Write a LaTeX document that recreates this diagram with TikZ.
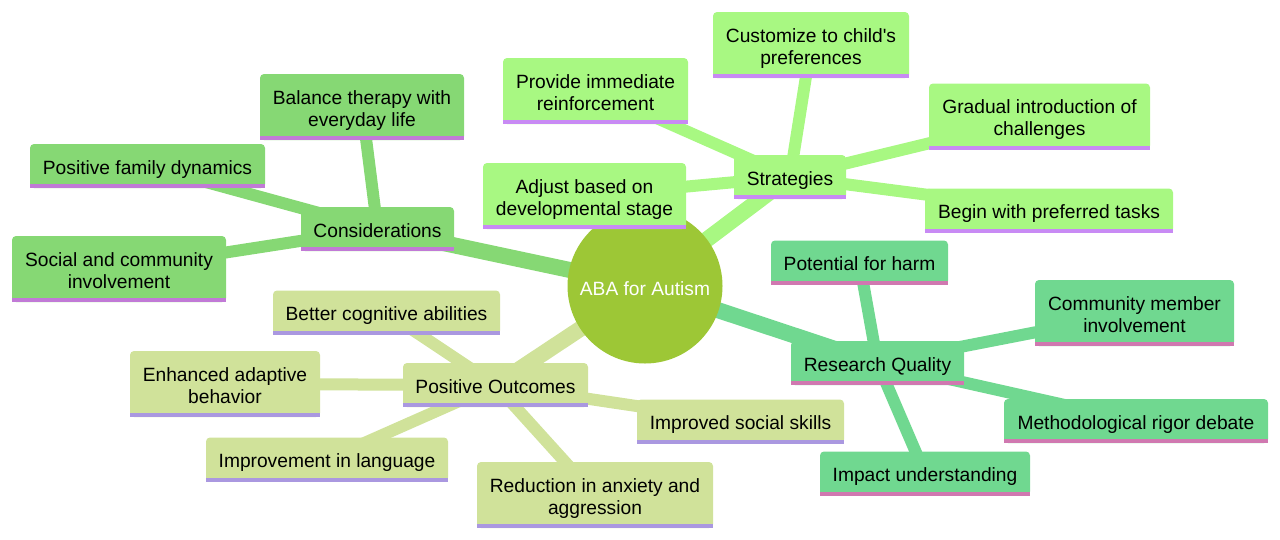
\documentclass[tikz,border=0pt]{standalone}
\usepackage{fontspec}
\setmainfont{Liberation Sans}
\usetikzlibrary{backgrounds}

\definecolor{rootC}{RGB}{157,199,54}
\definecolor{consC}{RGB}{134,216,116}
\definecolor{consL}{RGB}{193,122,214}
\definecolor{stratC}{RGB}{168,248,130}
\definecolor{stratL}{RGB}{200,138,244}
\definecolor{resC}{RGB}{112,216,144}
\definecolor{resL}{RGB}{208,120,176}
\definecolor{outC}{RGB}{208,226,154}
\definecolor{outL}{RGB}{170,152,224}

\newcommand{\mmfont}{\fontsize{19.2}{22}\selectfont}

\tikzset{
  mmbox/.style={fill=#1, rounded corners=4pt, align=center, font=\mmfont,
    text=black, inner sep=0pt, minimum height=44pt, text height=20pt, text depth=4pt},
  twoline/.style={minimum height=66pt, text height=42pt, text depth=4pt},
  mmedge/.style={draw=#1, line width=12pt},
  mainedge/.style={draw=#1, line width=16pt}
}

\begin{document}
\begin{tikzpicture}[x=1pt,y=-1pt]
    \useasboundingbox (0,0) rectangle (1280,539);

    % Mittelpunkt
    \node[circle, fill=rootC, minimum size=155pt, inner sep=0pt, font=\mmfont, text=white,
          text height=18pt, text depth=0pt] (root) at (645,286) {ABA for Autism};

    % Zweig: Considerations
    \node[mmbox=consC, minimum width=153pt] (cons) at (377.5,229) {Considerations};
    \node[mmbox=consC, twoline, minimum width=204pt] (bal) at (362,107) {Balance therapy with\\everyday life};
    \node[mmbox=consC, minimum width=235pt] (fam) at (147.5,166) {Positive family dynamics};
    \node[mmbox=consC, twoline, minimum width=214pt] (soc) at (119,269) {Social and community\\involvement};

    % Zweig: Strategies
    \node[mmbox=stratC, minimum width=112pt] (strat) at (790,177) {Strategies};
    \node[mmbox=stratC, twoline, minimum width=196pt] (cust) at (811,45) {Customize to child\textquotesingle s\\preferences};
    \node[mmbox=stratC, twoline, minimum width=185pt] (prov) at (595.5,91) {Provide immediate\\reinforcement};
    \node[mmbox=stratC, twoline, minimum width=203pt] (adj) at (584.5,196) {Adjust based on\\developmental stage};
    \node[mmbox=stratC, twoline, minimum width=221pt] (grad) at (1039.5,116.5) {Gradual introduction of\\challenges};
    \node[mmbox=stratC, minimum width=248pt] (begin) at (1049,210.5) {Begin with preferred tasks};

    % Zweig: Research Quality
    \node[mmbox=resC, minimum width=173pt] (res) at (877.5,363) {Research Quality};
    \node[mmbox=resC, minimum width=177pt] (harm) at (859.5,262.5) {Potential for harm};
    \node[mmbox=resC, twoline, minimum width=199pt] (comm) at (1134.5,313) {Community member\\involvement};
    \node[mmbox=resC, minimum width=264pt] (meth) at (1136,421) {Methodological rigor debate};
    \node[mmbox=resC, minimum width=210pt] (imp) at (925,473.5) {Impact understanding};

    % Zweig: Positive Outcomes
    \node[mmbox=outC, minimum width=185pt] (out) at (495.5,385) {Positive Outcomes};
    \node[mmbox=outC, minimum width=227pt] (cog) at (386.5,312.5) {Better cognitive abilities};
    \node[mmbox=outC, twoline, minimum width=190pt] (adapt) at (225,384) {Enhanced adaptive\\behavior};
    \node[mmbox=outC, minimum width=242pt] (lang) at (327,459.5) {Improvement in language};
    \node[mmbox=outC, minimum width=207pt] (skills) at (740.5,421.5) {Improved social skills};
    \node[mmbox=outC, twoline, minimum width=236pt] (red) at (595,495) {Reduction in anxiety and\\aggression};

    % Unterstriche
    \foreach \n/\c in {cons/consL,bal/consL,fam/consL,soc/consL,
                       strat/stratL,cust/stratL,prov/stratL,adj/stratL,grad/stratL,begin/stratL,
                       res/resL,harm/resL,comm/resL,meth/resL,imp/resL,
                       out/outL,cog/outL,adapt/outL,lang/outL,skills/outL,red/outL}
    \fill[\c] (\n.south west) rectangle ([yshift=4pt]\n.south east);

    % Kanten
    \begin{scope}[on background layer]
    \draw[mainedge=consC] (root.center) -- (cons.center);
    \draw[mainedge=stratC] (root.center) -- (strat.center);
    \draw[mainedge=resC] (root.center) -- (res.center);
    \draw[mainedge=outC] (root.center) -- (out.center);
    \foreach \n in {bal,fam,soc}
    \draw[mmedge=consC] (cons.center) -- (\n.center);
    \foreach \n in {cust,prov,adj,grad,begin}
    \draw[mmedge=stratC] (strat.center) -- (\n.center);
    \foreach \n in {harm,comm,meth,imp}
    \draw[mmedge=resC] (res.center) -- (\n.center);
    \foreach \n in {cog,adapt,lang,skills,red}
    \draw[mmedge=outC] (out.center) -- (\n.center);
    \end{scope}
\end{tikzpicture}
\end{document}
